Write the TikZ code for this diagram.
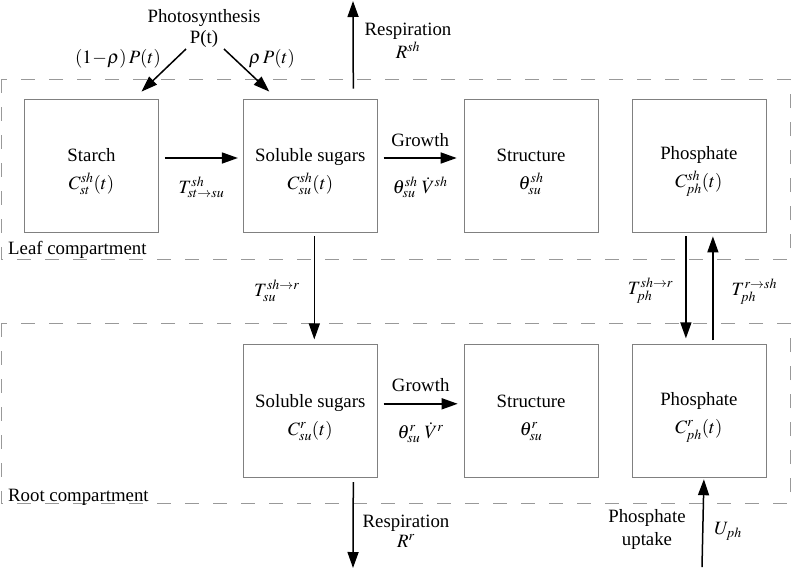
\documentclass[tikz,border=0pt]{standalone}
\usepackage{mathptmx}
\usepackage{fontspec}
\setmainfont{Liberation Serif}
\usetikzlibrary{
    arrows.meta,
    positioning
}

\newcommand{\pooltext}[2]{\rule{0pt}{25pt}#1\\#2}

\tikzset{
  pool/.style={
    draw=gray,
    line width=0.8pt,
    minimum width=134pt,
    minimum height=133pt,
    align=center,
    font=\fontsize{18.8}{28}\selectfont
  },
  flow/.style={
    line width=1.5pt,
    -{Triangle[length=16pt,width=11pt]}
  },
  compartment/.style={
    draw=gray!80,
    line width=0.8pt,
    dash pattern=on 14pt off 14pt
  },
  lbl/.style={
    font=\fontsize{18.8}{22}\selectfont,
    align=center,
    inner sep=0pt
  }
}

\begin{document}
\begin{tikzpicture}[x=1pt, y=-1pt]
  \useasboundingbox (0,0) rectangle (792,571);

  % compartments {{{
  \draw[compartment] (1,79) rectangle (790,259);
  \draw[compartment] (1,323) rectangle (790,503);
  \node[lbl, anchor=west] (leaflabel) at (8,250) {Leaf compartment};
  \node[lbl, anchor=west] (rootlabel) at (8,497) {Root compartment};
  % }}}

  % leaf pools {{{
  \node[pool] (starch) at (91.5,165.5) {\pooltext{Starch}{$C^{sh}_{st}(t)$}};
  \node[pool, right=84pt of starch] (sugarsleaf) {\pooltext{Soluble sugars}{$C^{sh}_{su}(t)$}};
  \node[pool, right=86pt of sugarsleaf] (structleaf) {\pooltext{Structure}{$\theta^{sh}_{su}$}};
  \node[pool, right=33pt of structleaf] (phosleaf) {\pooltext{Phosphate}{$C^{sh}_{ph}(t)$}};
  % }}}

  % root pools {{{
  \node[pool, below=112pt of sugarsleaf] (sugarsroot) {\pooltext{Soluble sugars}{$C^{r}_{su}(t)$}};
  \node[pool, below=112pt of structleaf] (structroot) {\pooltext{Structure}{$\theta^{r}_{su}$}};
  \node[pool, below=112pt of phosleaf] (phosroot) {\pooltext{Phosphate}{$C^{r}_{ph}(t)$}};
  % }}}

  % photosynthesis {{{
  \node[lbl, font=\fontsize{18.8}{21}\selectfont] (photo) at (204,28) {Photosynthesis\\P(t)};
  \coordinate (photoleft) at (186,49);
  \coordinate (photoright) at (224,49);
  \draw[flow] (photoleft) -- ([xshift=50pt,yshift=7pt]starch.north);
  \draw[flow] (photoright) -- ([xshift=-41pt,yshift=7pt]sugarsleaf.north);
  \node[lbl] (pstarch) at (118,59) {$(1\!-\!\rho)\,P(t)$};
  \node[lbl] (psugars) at (272,59) {$\rho\,P(t)$};
  % }}}

  % respiration {{{
  \coordinate (respsh) at (353,1);
  \coordinate (respr) at (353,568);
  \draw[flow] ([xshift=43pt,yshift=10pt]sugarsleaf.north) -- (respsh);
  \draw[flow] ([xshift=43pt,yshift=-4pt]sugarsroot.south) -- (respr);
  \node[lbl, font=\fontsize{18.8}{23}\selectfont] (respshlabel) at (408,41) {Respiration\\$R^{sh}$};
  \node[lbl, font=\fontsize{18.8}{20}\selectfont] (resprlabel) at (406,531) {Respiration\\$R^{r}$};
  % }}}

  % leaf transfers {{{
  \draw[flow] ([xshift=6pt,yshift=7.5pt]starch.east) --
    node[lbl, below=18pt] (tstsu) {$T^{sh}_{st\to su}$}
    ([xshift=-5pt,yshift=7.5pt]sugarsleaf.west);
  \draw[flow] ([xshift=6pt,yshift=7.5pt]sugarsleaf.east) --
    node[lbl, above=11pt] (growthleaf) {Growth}
    node[lbl, below=18pt] (vleaf) {$\theta^{sh}_{su}\;\dot{V}^{sh}$}
    ([xshift=-7pt,yshift=7.5pt]structleaf.west);
  % }}}

  % root transfers {{{
  \draw[flow] ([xshift=6pt,yshift=7.5pt]sugarsroot.east) --
    node[lbl, above=11pt] (growthroot) {Growth}
    node[lbl, below=18pt] (vroot) {$\theta^{r}_{su}\;\dot{V}^{r}$}
    ([xshift=-6pt,yshift=7.5pt]structroot.west);
  % }}}

  % leaf to root {{{
  \draw[flow] ([xshift=4pt,yshift=-4pt]sugarsleaf.south) --
    node[lbl, left=14pt, pos=0.53] (tsu) {$T^{sh\to r}_{su}$}
    ([xshift=4pt,yshift=5pt]sugarsroot.north);
  \draw[flow] ([xshift=-13pt,yshift=-4pt]phosleaf.south) --
    node[lbl, left=12pt, pos=0.53] (tphdown) {$T^{sh\to r}_{ph}$}
    ([xshift=-13pt,yshift=6pt]phosroot.north);
  \draw[flow] ([xshift=14pt,yshift=4pt]phosroot.north) --
    node[lbl, right=18pt, pos=0.47] (tphup) {$T^{r\to sh}_{ph}$}
    ([xshift=14pt,yshift=-4pt]phosleaf.south);
  % }}}

  % uptake {{{
  \coordinate (uptake) at (702,567);
  \draw[flow] (uptake) -- ([xshift=5pt,yshift=-1pt]phosroot.south);
  \node[lbl, font=\fontsize{18.8}{23}\selectfont] (uptakelabel) at (647,529) {Phosphate\\uptake};
  \node[lbl] (uph) at (728,531) {$U_{ph}$};
  % }}}

\end{tikzpicture}
\end{document}
